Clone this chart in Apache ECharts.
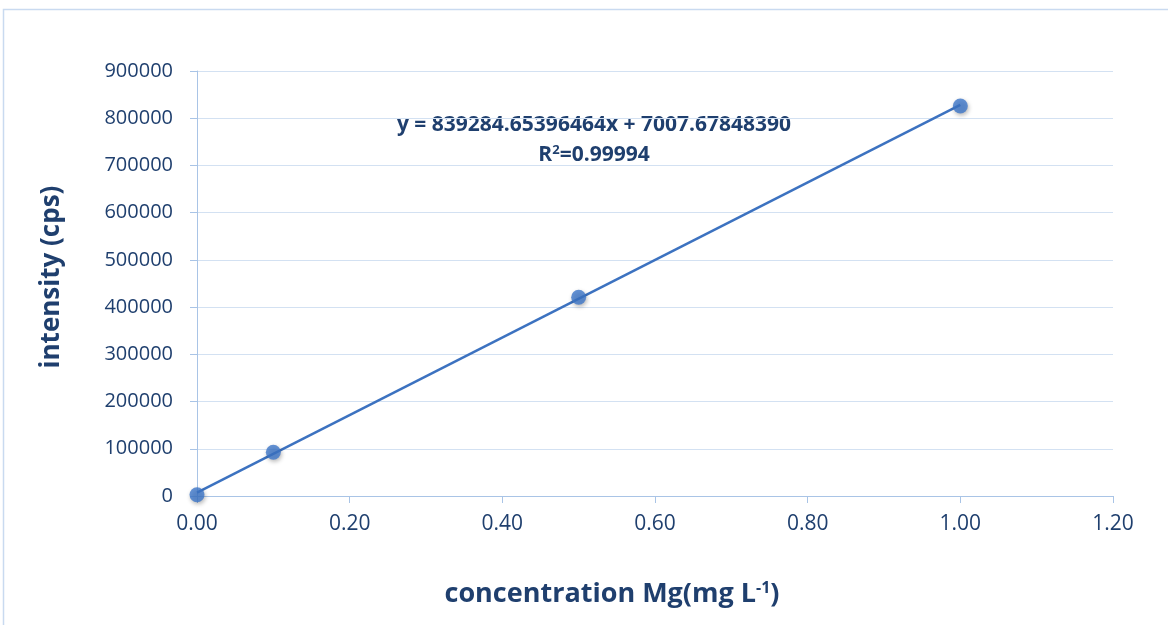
<!DOCTYPE html>
<html><head><meta charset="utf-8">
<script src="https://cdn.jsdelivr.net/npm/echarts@6/dist/echarts.min.js"></script>
<style>html,body{margin:0;padding:0;background:#fff}#c{width:1168px;height:625px}</style>
</head><body><div id="c"></div>
<script>
const concentrations = [0, 0.1, 0.5, 1.0];
const intensities = [2500, 92500, 421000, 826000];
const xTicks = [0, 0.2, 0.4, 0.6, 0.8, 1.0, 1.2];
const xTitle = 'concentration Mg(mg L{sup|-1})';
const yTitle = 'intensity (cps)';
const equationText = 'y = 839284.65396464x + 7007.67848390';
const r2Text = 'R{sup|2}=0.99994';

// least squares trend line through the data
const n = concentrations.length;
const mx = concentrations.reduce((a,b)=>a+b,0)/n;
const my = intensities.reduce((a,b)=>a+b,0)/n;
let sxx=0, sxy=0;
for (let i=0;i<n;i++){sxx+=(concentrations[i]-mx)**2; sxy+=(concentrations[i]-mx)*(intensities[i]-my);}
const slope = sxy/sxx, icpt = my - slope*mx;
const xmin = concentrations[0], xmax = concentrations[n-1];
const trend = [[xmin, slope*xmin+icpt],[xmax, slope*xmax+icpt]];

const navy = '#1f3f6e';
const font = '"Open Sans", "Liberation Sans", sans-serif';
const chart = echarts.init(document.getElementById('c'));
chart.setOption({
  animation:false,
  backgroundColor:'#fff',
  grid:{left:197,right:55,top:71,bottom:129},
  xAxis:{type:'value',min:0,max:1.2,interval:0.2,
    axisLine:{lineStyle:{color:'#a9c4e6',width:1}},
    axisTick:{show:true,length:7,lineStyle:{color:'#a9c4e6'}},
    splitLine:{show:false},
    axisLabel:{color:navy,fontSize:21,fontFamily:font,margin:18,formatter:v=>v.toFixed(2)}
  },
  yAxis:{type:'value',min:0,max:900000,interval:100000,
    axisLine:{show:true,lineStyle:{color:'#a9c4e6',width:1}},
    axisTick:{show:true,length:7,lineStyle:{color:'#a9c4e6'}},
    splitLine:{lineStyle:{color:'#d3e1f2',width:1}},
    axisLabel:{color:navy,fontSize:20,fontFamily:font,margin:24,formatter:v=>String(v)}
  },
  series:[
    {type:'line',data:trend,symbol:'none',lineStyle:{color:'#3c72c0',width:2.5},z:2,silent:true},
    {type:'scatter',data:concentrations.map((c,i)=>[c,intensities[i]]),symbolSize:15,
      itemStyle:{color:'#3d77c9',shadowColor:'rgba(0,0,0,0.35)',shadowBlur:4,shadowOffsetX:1,shadowOffsetY:2},z:3}
  ],
  graphic:[
    {type:'rect',shape:{x:3.5,y:9.5,width:1180,height:640},style:{fill:'none',stroke:'#c9daf0',lineWidth:1.5},silent:true},
    {type:'text',x:612,y:594,style:{text:xTitle,fill:navy,fontSize:27,fontWeight:'bold',fontFamily:font,align:'center',verticalAlign:'middle',
      rich:{sup:{fontSize:16,fontWeight:'bold',fill:navy,fontFamily:font,verticalAlign:'top',padding:[0,0,12,0]}}}},
    {type:'text',x:52,y:277,rotation:Math.PI/2,style:{text:yTitle,fill:navy,fontSize:26,fontWeight:'bold',fontFamily:font,align:'center',verticalAlign:'middle'}},
    {type:'text',x:594,y:125,style:{text:equationText,fill:navy,fontSize:21,fontWeight:'bold',fontFamily:font,align:'center',verticalAlign:'middle'}},
    {type:'text',x:594,y:155,style:{text:r2Text,fill:navy,fontSize:21,fontWeight:'bold',fontFamily:font,align:'center',verticalAlign:'middle',
      rich:{sup:{fontSize:13,fontWeight:'bold',fill:navy,fontFamily:font,verticalAlign:'top',padding:[0,0,10,0]}}}}
  ]
});
</script></body></html>
